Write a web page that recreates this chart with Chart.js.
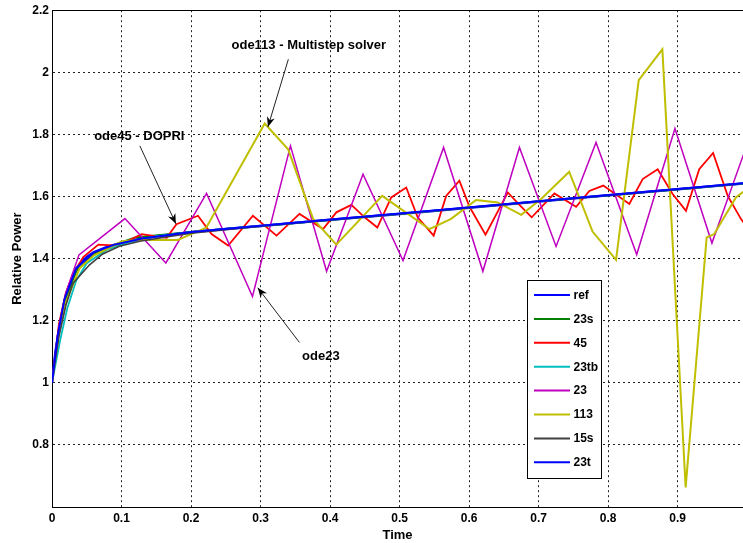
<!DOCTYPE html>
<html>
<head>
<meta charset="utf-8">
<title>Relative Power vs Time</title>
<script src="https://cdn.jsdelivr.net/npm/chart.js@4.4.1/dist/chart.umd.min.js"></script>
<style>
  html, body { margin: 0; padding: 0; background: #ffffff; }
  #wrap { width: 743px; height: 543px; }
</style>
</head>
<body>
<div id="wrap"><canvas id="c" width="743" height="543"></canvas></div>
<script>
const FONT = '"Liberation Sans", Arial, Helvetica, sans-serif';

// ---- solver outputs: time samples and relative power ----
const refTime  = [0, 0.005, 0.01, 0.015, 0.02, 0.025, 0.03, 0.04, 0.05, 0.06, 0.08, 0.1, 0.125, 0.15, 0.2, 0.25, 0.3, 0.4, 0.5, 0.6, 0.7, 0.8, 0.9, 1.0];
const refPower = [1.0, 1.10, 1.17, 1.23, 1.28, 1.315, 1.34, 1.383, 1.405, 1.42, 1.438, 1.45, 1.462, 1.472, 1.485, 1.495, 1.505, 1.525, 1.544, 1.564, 1.584, 1.604, 1.623, 1.643];

const t23s = [0, 0.01, 0.02, 0.035, 0.06, 0.09, 0.12, 0.16, 0.2, 0.3, 0.5, 0.7, 0.9, 1.0];
const p23s = [1.0, 1.17, 1.27, 1.36, 1.415, 1.445, 1.468, 1.477, 1.486, 1.505, 1.544, 1.584, 1.623, 1.643];

const t45 = [0, 0.01, 0.02, 0.03, 0.045, 0.0667, 0.0954, 0.129, 0.165, 0.179, 0.21, 0.2295, 0.2534, 0.289, 0.323, 0.356, 0.39, 0.409, 0.4306, 0.4497, 0.468, 0.488, 0.5096, 0.526, 0.549, 0.567, 0.586, 0.6006, 0.6236, 0.6557, 0.6724, 0.69, 0.7227, 0.7539, 0.773, 0.793, 0.8305, 0.8497, 0.8713, 0.8928, 0.912, 0.931, 0.951, 0.972, 0.991, 1.0];
const p45 = [1.0, 1.19, 1.29, 1.35, 1.405, 1.445, 1.442, 1.479, 1.467, 1.511, 1.538, 1.479, 1.442, 1.538, 1.474, 1.544, 1.495, 1.549, 1.573, 1.533, 1.50, 1.597, 1.629, 1.533, 1.474, 1.602, 1.651, 1.567, 1.477, 1.613, 1.573, 1.533, 1.61, 1.567, 1.618, 1.635, 1.576, 1.656, 1.688, 1.608, 1.554, 1.688, 1.74, 1.602, 1.528, 1.50];

const t23tb = [0, 0.012, 0.022, 0.035, 0.05, 0.08, 0.11, 0.15, 0.2, 0.3, 0.5, 0.7, 0.9, 1.0];
const p23tb = [1.0, 1.14, 1.24, 1.33, 1.385, 1.43, 1.452, 1.472, 1.485, 1.505, 1.544, 1.584, 1.623, 1.643];

const t23 = [0, 0.01, 0.02, 0.0388, 0.1049, 0.1638, 0.2223, 0.2884, 0.343, 0.395, 0.4474, 0.5049, 0.5633, 0.6198, 0.6724, 0.7251, 0.7826, 0.8411, 0.8961, 0.9493, 1.005];
const p23 = [1.0, 1.18, 1.29, 1.412, 1.529, 1.386, 1.61, 1.278, 1.763, 1.359, 1.672, 1.394, 1.758, 1.359, 1.758, 1.439, 1.774, 1.413, 1.819, 1.45, 1.80];

const t113 = [0, 0.01, 0.02, 0.04, 0.06, 0.1, 0.121, 0.181, 0.222, 0.306, 0.3397, 0.3756, 0.409, 0.475, 0.543, 0.574, 0.61, 0.641, 0.675, 0.7036, 0.744, 0.7776, 0.8114, 0.844, 0.878, 0.9115, 0.9417, 0.9526, 0.9838, 1.0];
const p113 = [1.0, 1.16, 1.26, 1.37, 1.41, 1.455, 1.46, 1.46, 1.50, 1.835, 1.752, 1.528, 1.445, 1.602, 1.495, 1.528, 1.589, 1.581, 1.541, 1.592, 1.68, 1.487, 1.396, 1.975, 2.074, 0.663, 1.468, 1.479, 1.597, 1.625];

const t15s = [0, 0.01, 0.02, 0.03, 0.054, 0.073, 0.097, 0.126, 0.16, 0.2, 0.3, 0.5, 0.7, 0.9, 1.0];
const p15s = [1.0, 1.15, 1.25, 1.32, 1.38, 1.415, 1.44, 1.456, 1.468, 1.482, 1.504, 1.544, 1.584, 1.623, 1.643];

const t23t = [0, 0.008, 0.018, 0.035, 0.06, 0.09, 0.13, 0.2, 0.3, 0.5, 0.7, 0.9, 1.0];
const p23t = [1.0, 1.15, 1.27, 1.37, 1.42, 1.445, 1.465, 1.486, 1.506, 1.545, 1.585, 1.624, 1.644];

const seriesNames  = ['ref', '23s', '45', '23tb', '23', '113', '15s', '23t'];
const seriesTimes  = [refTime, t23s, t45, t23tb, t23, t113, t15s, t23t];
const seriesPowers = [refPower, p23s, p45, p23tb, p23, p113, p15s, p23t];
const seriesColors = ['#0000ff', '#008000', '#ff0000', '#00bfbf', '#bf00bf', '#bfbf00', '#404040', '#0000ff'];
const seriesWidths = [2.5, 1.8, 1.8, 1.8, 1.5, 2, 1.6, 2];

const xTickValues = [0, 0.1, 0.2, 0.3, 0.4, 0.5, 0.6, 0.7, 0.8, 0.9];
const yTickValues = [0.8, 1.0, 1.2, 1.4, 1.6, 1.8, 2.0, 2.2];

// callouts in data coordinates
const callouts = [
  { text: 'ode45 - DOPRI',             at: [0.1256, 1.793], tail: [0.1264, 1.763], head: [0.1782, 1.512] },
  { text: 'ode113 - Multistep solver', at: [0.3694, 2.0876], tail: [0.340, 2.042], head: [0.3106, 1.824] },
  { text: 'ode23',                     at: [0.3868, 1.085], tail: [0.3559, 1.130], head: [0.296, 1.306] }
];

const datasets = seriesNames.map((name, i) => ({
  label: name,
  data: seriesTimes[i].map((t, k) => ({ x: t, y: seriesPowers[i][k] })),
  borderColor: seriesColors[i],
  backgroundColor: seriesColors[i],
  borderWidth: seriesWidths[i],
  pointRadius: 0,
  tension: 0,
  fill: false,
  order: seriesNames.length - 1 - i   // later series are painted over earlier ones
}));

const whiteBackground = {
  id: 'whiteBackground',
  beforeDraw(chart) {
    const ctx = chart.ctx;
    ctx.save();
    ctx.fillStyle = '#ffffff';
    ctx.fillRect(0, 0, chart.width, chart.height);
    ctx.restore();
  }
};

const frameTop = {
  id: 'frameTop',
  afterDraw(chart) {
    const { ctx, chartArea } = chart;
    ctx.save();
    ctx.strokeStyle = '#000';
    ctx.lineWidth = 1;
    ctx.beginPath();
    ctx.moveTo(chartArea.left, Math.round(chartArea.top) + 0.5);
    ctx.lineTo(chartArea.right, Math.round(chartArea.top) + 0.5);
    ctx.stroke();
    ctx.restore();
  }
};

function drawArrow(ctx, x0, y0, x1, y1) {
  ctx.beginPath();
  ctx.moveTo(x0, y0);
  ctx.lineTo(x1, y1);
  ctx.stroke();
  const a = Math.atan2(y1 - y0, x1 - x0);
  const L = 10, W = 4, N = 7;
  const bx = x1 - L * Math.cos(a), by = y1 - L * Math.sin(a);
  const nx = x1 - N * Math.cos(a), ny = y1 - N * Math.sin(a);
  const px = -Math.sin(a), py = Math.cos(a);
  ctx.beginPath();
  ctx.moveTo(x1, y1);
  ctx.lineTo(bx + px * W, by + py * W);
  ctx.lineTo(nx, ny);
  ctx.lineTo(bx - px * W, by - py * W);
  ctx.closePath();
  ctx.fill();
}

const calloutPlugin = {
  id: 'callouts',
  afterDatasetsDraw(chart) {
    const { ctx } = chart;
    const xs = chart.scales.x, ys = chart.scales.y;
    ctx.save();
    ctx.strokeStyle = '#222';
    ctx.fillStyle = '#000';
    ctx.lineWidth = 1;
    ctx.font = 'bold 13px ' + FONT;
    ctx.textAlign = 'center';
    ctx.textBaseline = 'middle';
    callouts.forEach(c => {
      drawArrow(ctx,
        xs.getPixelForValue(c.tail[0]), ys.getPixelForValue(c.tail[1]),
        xs.getPixelForValue(c.head[0]), ys.getPixelForValue(c.head[1]));
      ctx.fillText(c.text, xs.getPixelForValue(c.at[0]), ys.getPixelForValue(c.at[1]));
    });
    ctx.restore();
  }
};

const legendBox = {
  id: 'legendBox',
  afterDatasetsDraw(chart) {
    const ctx = chart.ctx;
    const left = 527.5, top = 280.5, w = 74, h = 198;
    const rowTop = 295, rowStep = 23.9;
    ctx.save();
    ctx.fillStyle = '#ffffff';
    ctx.fillRect(left, top, w, h);
    ctx.strokeStyle = '#000';
    ctx.lineWidth = 1;
    ctx.strokeRect(left, top, w, h);
    ctx.font = 'bold 12px ' + FONT;
    ctx.textAlign = 'left';
    ctx.textBaseline = 'middle';
    seriesNames.forEach((name, i) => {
      const y = rowTop + i * rowStep;
      ctx.strokeStyle = seriesColors[i];
      ctx.lineWidth = 2;
      ctx.beginPath();
      ctx.moveTo(534, y);
      ctx.lineTo(570, y);
      ctx.stroke();
      ctx.fillStyle = '#000';
      ctx.fillText(name, 573.5, y + 0.5);
    });
    ctx.restore();
  }
};

const gridStyle = {
  color: '#222',
  lineWidth: 1,
  drawTicks: false
};

new Chart(document.getElementById('c'), {
  type: 'line',
  data: { datasets },
  options: {
    responsive: false,
    animation: false,
    events: [],
    layout: { padding: { top: 9, right: 0, bottom: 0, left: 0 } },
    plugins: {
      legend: { display: false },
      tooltip: { enabled: false }
    },
    scales: {
      x: {
        type: 'linear',
        min: 0,
        max: 0.994,
        afterBuildTicks(scale) { scale.ticks = xTickValues.map(v => ({ value: v })); },
        afterFit(scale) { scale.height = 36; },
        grid: Object.assign({}, gridStyle),
        border: { display: true, color: '#000', width: 1, dash: [2, 3] },
        ticks: {
          color: '#000',
          padding: 4,
          maxRotation: 0,
          autoSkip: false,
          font: { family: FONT, size: 12, weight: 'bold' },
          callback: v => String(+(+v).toFixed(1))
        },
        title: {
          display: true,
          text: 'Time',
          color: '#000',
          padding: { top: 0, bottom: 0 },
          font: { family: FONT, size: 13, weight: 'bold' }
        }
      },
      y: {
        type: 'linear',
        min: 0.6,
        max: 2.2,
        afterBuildTicks(scale) { scale.ticks = yTickValues.map(v => ({ value: v })); },
        afterFit(scale) { scale.width = 52; },
        grid: Object.assign({}, gridStyle),
        border: { display: true, color: '#000', width: 1, dash: [2, 3] },
        ticks: {
          color: '#000',
          padding: 3,
          autoSkip: false,
          font: { family: FONT, size: 12, weight: 'bold' },
          callback: v => String(+(+v).toFixed(1))
        },
        title: {
          display: true,
          text: 'Relative Power',
          color: '#000',
          padding: { top: 10, bottom: 0 },
          font: { family: FONT, size: 13, weight: 'bold' }
        }
      }
    }
  },
  plugins: [whiteBackground, frameTop, calloutPlugin, legendBox]
});
</script>
</body>
</html>
